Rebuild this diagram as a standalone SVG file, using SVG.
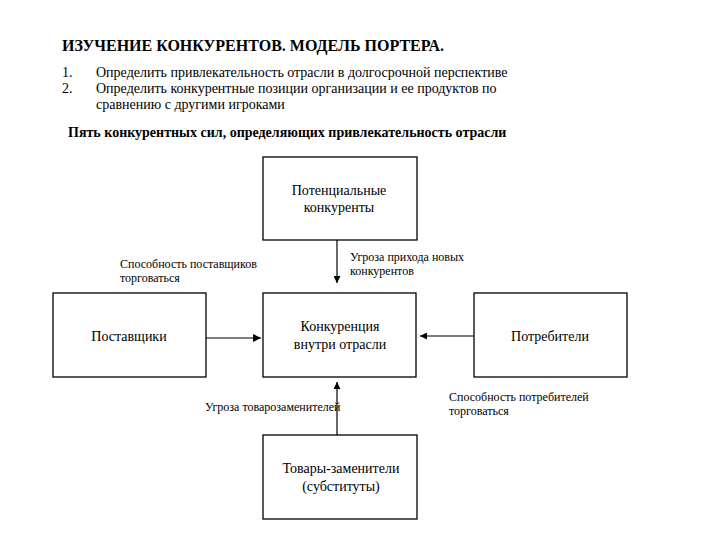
<svg xmlns="http://www.w3.org/2000/svg" width="720" height="540" viewBox="0 0 720 540">
<style>
text{font-family:'Liberation Serif','Times New Roman','DejaVu Serif','Noto Serif',serif;fill:#000}
.t{font-size:16px;font-weight:bold}
.b{font-size:14px}
.s{font-size:14px;font-weight:bold}
.n{font-size:14px;text-anchor:middle}
.l{font-size:12px}
.box{fill:#fff;stroke:#000;stroke-width:1.3}
.c{stroke:#000;stroke-width:1.2;fill:none}
</style>
<defs>
<marker id="ah" viewBox="0 0 10 10" refX="10" refY="5" markerWidth="7" markerHeight="7" markerUnits="userSpaceOnUse" orient="auto">
<path d="M0,0 L10,5 L0,10 z" fill="#000"/>
</marker>
<marker id="ah2" viewBox="0 0 10 10" refX="10" refY="5" markerWidth="8" markerHeight="8" markerUnits="userSpaceOnUse" orient="auto">
<path d="M0,0 L10,5 L0,10 z" fill="#000"/>
</marker>
</defs>
<rect width="720" height="540" fill="#fff"/>
<g id="header">
<text class="t" x="62" y="51">ИЗУЧЕНИЕ КОНКУРЕНТОВ. МОДЕЛЬ ПОРТЕРА.</text>
<text class="b" x="62" y="77">1.</text>
<text class="b" x="96" y="77">Определить привлекательность отрасли в долгосрочной перспективе</text>
<text class="b" x="62" y="93">2.</text>
<text class="b" x="96" y="93">Определить конкурентные позиции организации и ее продуктов по</text>
<text class="b" x="96" y="109">сравнению с другими игроками</text>
<text class="s" x="68" y="137">Пять конкурентных сил, определяющих привлекательность отрасли</text>
</g>
<g id="connectors">
<line class="c" x1="337" y1="240" x2="337" y2="283" marker-end="url(#ah)"/>
<line class="c" x1="206" y1="338" x2="261" y2="338" stroke-width="2.6" marker-end="url(#ah2)"/>
<line class="c" x1="474" y1="336" x2="420" y2="336" marker-end="url(#ah)"/>
<line class="c" x1="337" y1="435" x2="337" y2="382" marker-end="url(#ah)"/>
</g>
<g id="labels">
<text class="l" x="350" y="261">Угроза прихода новых</text>
<text class="l" x="350" y="275">конкурентов</text>
<text class="l" x="120" y="268">Способность поставщиков</text>
<text class="l" x="120" y="282">торговаться</text>
<text class="l" x="205" y="411">Угроза товарозаменителей</text>
<text class="l" x="449" y="401">Способность потребителей</text>
<text class="l" x="449" y="415">торговаться</text>
</g>
<g id="potential">
<rect class="box" x="263" y="157" width="154" height="83"/>
<text class="n" x="339" y="195">Потенциальные</text>
<text class="n" x="339" y="212">конкуренты</text>
</g>
<g id="suppliers">
<rect class="box" x="53" y="293" width="153" height="84"/>
<text class="n" x="129" y="341">Поставщики</text>
</g>
<g id="rivalry">
<rect class="box" x="263" y="293" width="153" height="84"/>
<text class="n" x="340" y="331">Конкуренция</text>
<text class="n" x="340" y="349">внутри отрасли</text>
</g>
<g id="buyers">
<rect class="box" x="474" y="293" width="153" height="84"/>
<text class="n" x="550" y="341">Потребители</text>
</g>
<g id="substitutes">
<rect class="box" x="263" y="435" width="154" height="84"/>
<text class="n" x="341" y="473">Товары-заменители</text>
<text class="n" x="341" y="491">(субституты)</text>
</g>
</svg>
